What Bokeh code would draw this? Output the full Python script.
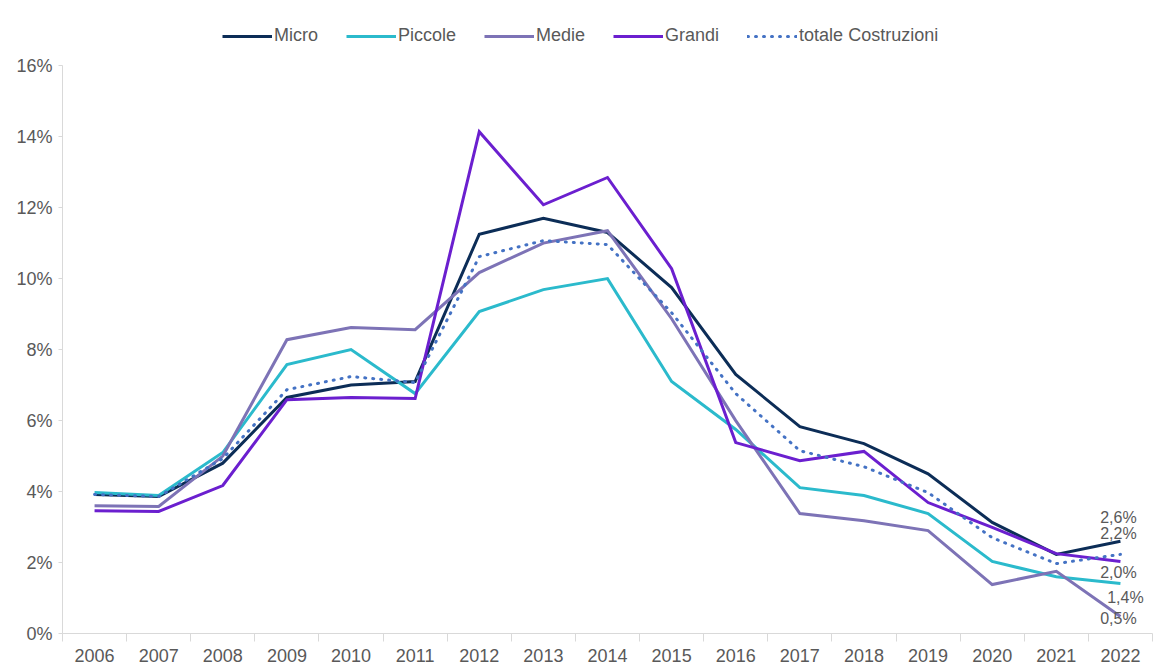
from bokeh.plotting import figure
from bokeh.models import (ColumnDataSource, Range1d, FixedTicker, PrintfTickFormatter,
                          Legend, LegendItem)
from bokeh.core.properties import value
from bokeh.embed import file_html
from bokeh.resources import INLINE

years = ["2006", "2007", "2008", "2009", "2010", "2011", "2012", "2013", "2014",
         "2015", "2016", "2017", "2018", "2019", "2020", "2021", "2022"]

micro = [3.92, 3.86, 4.80, 6.65, 7.00, 7.10, 11.25, 11.70, 11.30,
         9.75, 7.30, 5.83, 5.35, 4.50, 3.13, 2.23, 2.60]
piccole = [3.97, 3.89, 5.10, 7.58, 8.00, 6.76, 9.07, 9.69, 10.00,
           7.10, 5.75, 4.11, 3.89, 3.38, 2.03, 1.60, 1.41]
medie = [3.60, 3.58, 5.00, 8.28, 8.62, 8.56, 10.17, 11.00, 11.35,
         8.87, 6.00, 3.38, 3.18, 2.90, 1.38, 1.75, 0.48]
grandi = [3.46, 3.44, 4.17, 6.59, 6.65, 6.62, 14.14, 12.08, 12.85,
          10.28, 5.38, 4.87, 5.13, 3.69, 2.99, 2.25, 2.03]
totale = [3.92, 3.86, 4.93, 6.87, 7.24, 7.07, 10.62, 11.07, 10.96,
          9.04, 6.76, 5.15, 4.70, 3.97, 2.70, 1.97, 2.23]

series_names = ["Micro", "Piccole", "Medie", "Grandi", "totale Costruzioni"]
series_values = [micro, piccole, medie, grandi, totale]
series_colors = ["#0c2d57", "#2bbacc", "#7d73b6", "#6b1fcf", "#4472c4"]
series_dash = ["solid", "solid", "solid", "solid", "1 7"]
series_cap = ["butt", "butt", "butt", "butt", "round"]

y_ticks = [0, 2, 4, 6, 8, 10, 12, 14, 16]

# end label styling (offsets in screen pixels), per series
label_dx = [-2, 5, -2, -2, -2]
label_dy = [-24, 14, 2, 11, -21]

xs = list(range(len(years)))

p = figure(width=1160, height=671, output_backend="svg", toolbar_location=None,
           x_range=Range1d(-0.5, len(years) - 0.5), y_range=Range1d(0, 17.33),
           min_border_left=62, min_border_right=8, min_border_top=18, min_border_bottom=38)
p.outline_line_color = None
p.xgrid.grid_line_color = None
p.ygrid.grid_line_color = None

renderers = []
for name, vals, col, dash, cap in zip(series_names, series_values, series_colors,
                                      series_dash, series_cap):
    src = ColumnDataSource(dict(x=xs, y=vals))
    r = p.line("x", "y", source=src, line_color=col, line_width=3, line_join="miter",
               line_dash=dash, line_cap=cap)
    renderers.append(r)

# end labels
last_x = [xs[-1]] * len(series_values)
last_y = [v[-1] for v in series_values]
last_txt = [("%.1f" % v).replace(".", ",") + "%" for v in last_y]
lab_src = ColumnDataSource(dict(x=last_x, y=last_y, t=last_txt, dx=label_dx, dy=label_dy))
p.text("x", "y", text="t", source=lab_src, x_offset="dx", y_offset="dy",
       text_align="center", text_baseline="middle", text_font_size="16px",
       text_color="#595959", text_font=value("Liberation Sans"))

# x axis
xax = p.xaxis[0]
xax.ticker = FixedTicker(ticks=xs, minor_ticks=[i - 0.5 for i in range(len(years) + 1)])
xax.major_label_overrides = {i: y for i, y in enumerate(years)}
xax.major_tick_line_color = None
xax.major_tick_out = 8
xax.major_tick_in = 0
xax.minor_tick_line_color = "#d9d9d9"
xax.minor_tick_out = 8
xax.minor_tick_in = 0
xax.axis_line_color = "#d9d9d9"
xax.axis_line_width = 1
xax.major_label_standoff = 7
xax.major_label_text_font_size = "18px"
xax.major_label_text_color = "#595959"
xax.major_label_text_font = "Liberation Sans"

# y axis
yax = p.yaxis[0]
yax.ticker = FixedTicker(ticks=y_ticks, minor_ticks=[])
yax.bounds = (0, 16)
yax.formatter = PrintfTickFormatter(format="%d%%")
yax.axis_line_color = "#d9d9d9"
yax.major_tick_line_color = "#d9d9d9"
yax.major_tick_out = 4
yax.major_tick_in = 0
yax.minor_tick_line_color = None
yax.major_label_standoff = 6
yax.major_label_text_font_size = "18px"
yax.major_label_text_color = "#595959"
yax.major_label_text_font = "Liberation Sans"

legend = Legend(items=[LegendItem(label=n, renderers=[r]) for n, r in zip(series_names, renderers)],
                orientation="horizontal", location=(160, 587))
legend.glyph_width = 50
legend.glyph_height = 20
legend.label_standoff = 2
legend.spacing = 28
legend.padding = 7
legend.margin = 0
legend.border_line_color = None
legend.background_fill_alpha = 0
legend.label_text_font_size = "18px"
legend.label_text_color = "#595959"
legend.label_text_font = "Liberation Sans"
p.add_layout(legend, "center")

open("out.html", "w").write(file_html(p, INLINE))
